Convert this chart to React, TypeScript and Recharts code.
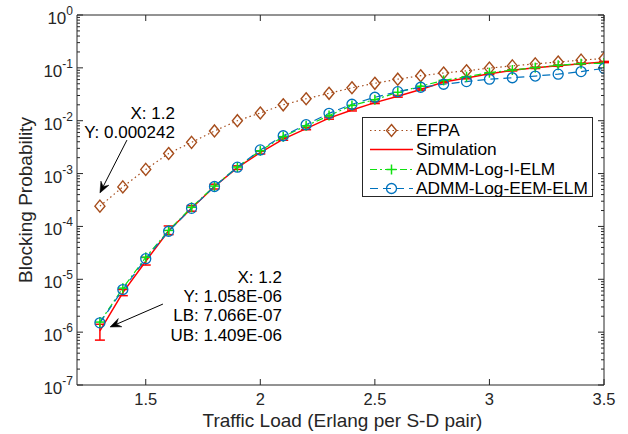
import React from 'react';
import { LineChart, Line, XAxis, YAxis, ErrorBar, Legend, ReferenceLine } from 'recharts';

// ---------- data ----------
const trafficLoad = [1.3, 1.4, 1.5, 1.6, 1.7, 1.8, 1.9, 2.0, 2.1, 2.2, 2.3, 2.4, 2.5, 2.6, 2.7, 2.8, 2.9, 3.0, 3.1, 3.2, 3.3, 3.4, 3.5];
const efpa = [2.42e-4, 5.6e-4, 1.2e-3, 2.4e-3, 3.9e-3, 6.4e-3, 1.0e-2, 1.4e-2, 2.0e-2, 2.6e-2, 3.3e-2, 4.2e-2, 5.1e-2, 6.1e-2, 7.1e-2, 8.0e-2, 8.8e-2, 9.9e-2, 1.09e-1, 1.19e-1, 1.29e-1, 1.4e-1, 1.5e-1];
const simulation = [1.058e-6, 5.6e-6, 2.2e-5, 8.3e-5, 2.2e-4, 5.7e-4, 1.3e-3, 2.5e-3, 4.5e-3, 7.1e-3, 1.12e-2, 1.6e-2, 2.2e-2, 2.9e-2, 3.9e-2, 5.4e-2, 6.4e-2, 7.7e-2, 9.0e-2, 1.0e-1, 1.1e-1, 1.2e-1, 1.29e-1];
const simErrLow = [3.514e-7, 7e-7, 3.4e-6, 1.3e-5, 2.6e-5, 6e-5, 1e-4, 1.5e-4, 2.3e-4, 3.5e-4, 5e-4, 7e-4, 9e-4, 1.1e-3, 1.4e-3, 1.8e-3, 2e-3, 2.4e-3, 2.6e-3, 2.8e-3, 3e-3, 3.2e-3, 3.4e-3];
const simErrHigh = [3.51e-7, 8e-7, 4e-6, 1.9e-5, 2.8e-5, 6e-5, 1e-4, 1.5e-4, 2.3e-4, 3.5e-4, 5e-4, 7e-4, 9e-4, 1.1e-3, 1.4e-3, 1.8e-3, 2e-3, 2.4e-3, 2.6e-3, 2.8e-3, 3e-3, 3.2e-3, 3.4e-3];
const admmLogIElm = [1.55e-6, 6.8e-6, 2.6e-5, 8.4e-5, 2.3e-4, 5.8e-4, 1.33e-3, 2.7e-3, 5.0e-3, 8.0e-3, 1.25e-2, 1.95e-2, 2.5e-2, 3.45e-2, 4.5e-2, 5.8e-2, 6.8e-2, 8.1e-2, 9.1e-2, 1.01e-1, 1.12e-1, 1.2e-1, 1.22e-1];
const admmLogEemElm = [1.5e-6, 6.4e-6, 2.45e-5, 8.1e-5, 2.2e-4, 5.7e-4, 1.32e-3, 2.8e-3, 5.2e-3, 8.4e-3, 1.38e-2, 2.05e-2, 2.78e-2, 3.55e-2, 4.3e-2, 4.9e-2, 5.5e-2, 6.1e-2, 6.5e-2, 7.0e-2, 7.6e-2, 8.5e-2, 9.8e-2];

const xTicks = [1.5, 2, 2.5, 3, 3.5];
const yMajorTicks = [1e-7, 1e-6, 1e-5, 1e-4, 1e-3, 1e-2, 1e-1, 1];
const yMinorMultipliers = [2, 3, 4, 5, 6, 7, 8, 9];

const seriesNames = ['EFPA', 'Simulation', 'ADMM-Log-I-ELM', 'ADMM-Log-EEM-ELM'];

const tip1Lines = ['X: 1.2', 'Y: 0.000242'];
const tip1From = { x: 1.418, y: 4.3e-3 };
const tip1To = { x: 1.3, y: 4.3e-4 };
const tip2Lines = ['X: 1.2', 'Y: 1.058E-06', 'LB: 7.066E-07', 'UB: 1.409E-06'];
const tip2From = { x: 1.575, y: 3.4e-6 };
const tip2To = { x: 1.344, y: 1.25e-6 };

const data = trafficLoad.map((x, i) => ({
  x,
  efpa: efpa[i],
  sim: simulation[i],
  simErr: [simErrLow[i], simErrHigh[i]],
  iElm: admmLogIElm[i],
  eem: admmLogEemElm[i],
}));

const yTicks: number[] = [];
yMajorTicks.forEach((m, i) => {
  yTicks.push(m);
  if (i < yMajorTicks.length - 1) yMinorMultipliers.forEach((k) => yTicks.push(k * m));
});

// ---------- styles ----------
const FONT = '"Liberation Sans", Arial, Helvetica, sans-serif';
const AXIS = '#262626';
const C_EFPA = '#a64d1c';
const C_SIM = '#ff0000';
const C_IELM = '#10e010';
const C_EEM = '#0072bd';

const isMajor = (v: number) => yMajorTicks.some((m) => Math.abs(v / m - 1) < 1e-6);

const LeftTick = (props: any) => {
  const { x, y, payload } = props;
  const v = payload.value;
  const major = isMajor(v);
  const exp = Math.round(Math.log10(v));
  return (
    <g>
      <line x1={x} y1={y} x2={x + (major ? 6 : 3)} y2={y} stroke={AXIS} strokeWidth={1} />
      {major && (
        <text x={x - 4} y={y + 9} textAnchor="end" fontFamily={FONT} fontSize={17} fill={AXIS}>
          <tspan>10</tspan>
          <tspan dy={-9} fontSize={12}>{String(exp)}</tspan>
        </text>
      )}
    </g>
  );
};

const RightTick = (props: any) => {
  const { x, y, payload } = props;
  const major = isMajor(payload.value);
  return <line x1={x} y1={y} x2={x - (major ? 6 : 3)} y2={y} stroke={AXIS} strokeWidth={1} />;
};

const BottomTick = (props: any) => {
  const { x, y, payload } = props;
  return (
    <g>
      <line x1={x} y1={y} x2={x} y2={y - 6} stroke={AXIS} strokeWidth={1} />
      <text x={x} y={y + 20} textAnchor="middle" fontFamily={FONT} fontSize={16.5} fill={AXIS}>
        {String(payload.value)}
      </text>
    </g>
  );
};

const TopTick = (props: any) => {
  const { x, y } = props;
  return <line x1={x} y1={y} x2={x} y2={y + 6} stroke={AXIS} strokeWidth={1} />;
};

// ---------- markers ----------
const Diamond = ({ cx, cy, color }: any) => (
  <polygon
    points={`${cx},${cy - 6} ${cx + 5},${cy} ${cx},${cy + 6} ${cx - 5},${cy}`}
    fill="none"
    stroke={color}
    strokeWidth={1.4}
  />
);
const Plus = ({ cx, cy, color }: any) => (
  <g stroke={color} strokeWidth={1.5}>
    <line x1={cx - 5} y1={cy} x2={cx + 5} y2={cy} />
    <line x1={cx} y1={cy - 5} x2={cx} y2={cy + 5} />
  </g>
);
const Circle = ({ cx, cy, color }: any) => (
  <circle cx={cx} cy={cy} r={5} fill="none" stroke={color} strokeWidth={1.3} />
);

const dotRenderer = (Comp: any, color: string) => (props: any) => {
  const { cx, cy, index } = props;
  if (cx == null || cy == null) return <g key={index} />;
  return (
    <g key={`d-${index}`}>
      <Comp cx={cx} cy={cy} color={color} />
    </g>
  );
};

// ---------- annotation arrows ----------
const makeArrow = (lines: string[], dx: number, baselines: number[]) => (props: any) => {
  const { x1, y1, x2, y2 } = props;
  const len = Math.hypot(x2 - x1, y2 - y1) || 1;
  const ux = (x2 - x1) / len;
  const uy = (y2 - y1) / len;
  const nx = -uy;
  const ny = ux;
  const L = 11;
  const W = 4.5;
  const bx = x2 - ux * L;
  const by = y2 - uy * L;
  const mx = x2 - ux * L * 0.65;
  const my = y2 - uy * L * 0.65;
  return (
    <g>
      <line x1={x1} y1={y1} x2={mx} y2={my} stroke="#000" strokeWidth={1} />
      <polygon
        points={`${x2},${y2} ${bx + nx * W},${by + ny * W} ${mx},${my} ${bx - nx * W},${by - ny * W}`}
        fill="#000"
        stroke="#000"
        strokeWidth={0.5}
      />
      <text textAnchor="end" fontFamily={FONT} fontSize={17} fill="#000">
        {lines.map((l, i) => (
          <tspan key={i} x={x1 + dx} y={y1 + baselines[i]}>
            {l}
          </tspan>
        ))}
      </text>
    </g>
  );
};

// ---------- legend ----------
const legendItems = [
  { name: seriesNames[0], color: C_EFPA, dash: '1.5 3', width: 1.2, marker: Diamond },
  { name: seriesNames[1], color: C_SIM, dash: undefined, width: 1.5, marker: null },
  { name: seriesNames[2], color: C_IELM, dash: '7 3 2 3', width: 1.2, marker: Plus },
  { name: seriesNames[3], color: C_EEM, dash: '8 5', width: 1.2, marker: Circle },
];

const LegendBox = () => (
  <div
    style={{
      border: `1px solid ${AXIS}`,
      background: '#fff',
      width: 231,
      height: 80,
      paddingTop: 3,
      boxSizing: 'border-box',
      fontFamily: FONT,
      fontSize: 17.3,
      color: '#000',
    }}
  >
    {legendItems.map((it) => {
      const M = it.marker as any;
      return (
        <div key={it.name} style={{ display: 'flex', alignItems: 'center', height: 19.3, whiteSpace: 'nowrap' }}>
          <svg width={53} height={19} style={{ flex: 'none' }}>
            <line x1={7} y1={9.5} x2={50} y2={9.5} stroke={it.color} strokeWidth={it.width} strokeDasharray={it.dash} />
            {M && <M cx={28.5} cy={9.5} color={it.color} />}
          </svg>
          <span style={{ lineHeight: '19px' }}>{it.name}</span>
        </div>
      );
    })}
  </div>
);

const YLabel = (props: any) => {
  const vb = props.viewBox || { x: 0, y: 15, width: 77, height: 370 };
  const cx = vb.x + 25;
  const cy = vb.y + vb.height / 2;
  return (
    <text
      x={cx}
      y={cy}
      dy="0.35em"
      transform={`rotate(-90 ${cx} ${cy})`}
      textAnchor="middle"
      fontFamily={FONT}
      fontSize={19}
      fill={AXIS}
    >
      Blocking Probability
    </text>
  );
};

const XLabel = (props: any) => {
  const vb = props.viewBox || { x: 77, y: 385, width: 527, height: 49 };
  return (
    <text x={vb.x + vb.width / 2 + 2} y={vb.y + 42} textAnchor="middle" fontFamily={FONT} fontSize={19} fill={AXIS}>
      Traffic Load (Erlang per S-D pair)
    </text>
  );
};

export default function App() {
  return (
    <div style={{ position: 'absolute', left: 0, top: 0, background: '#fff' }}>
      <LineChart width={628} height={434} data={data} margin={{ top: 0, right: 0, bottom: 0, left: 0 }}>
        <XAxis
          dataKey="x"
          type="number"
          domain={[1.2, 3.5]}
          allowDataOverflow
          ticks={xTicks}
          interval={0}
          tickSize={0}
          tickMargin={0}
          tick={<BottomTick />}
          tickLine={false}
          axisLine={{ stroke: AXIS, strokeWidth: 1 }}
          height={49}
          label={<XLabel />}
        />
        <XAxis
          xAxisId="top"
          orientation="top"
          dataKey="x"
          type="number"
          domain={[1.2, 3.5]}
          allowDataOverflow
          ticks={xTicks}
          interval={0}
          tickSize={0}
          tickMargin={0}
          tick={<TopTick />}
          tickLine={false}
          axisLine={{ stroke: AXIS, strokeWidth: 1 }}
          height={15}
        />
        <YAxis
          type="number"
          scale="log"
          domain={[1e-7, 1]}
          allowDataOverflow
          ticks={yTicks}
          interval={0}
          tickSize={0}
          tickMargin={0}
          tick={<LeftTick />}
          tickLine={false}
          axisLine={{ stroke: AXIS, strokeWidth: 1 }}
          width={77}
          label={<YLabel />}
        />
        <YAxis
          yAxisId="right"
          orientation="right"
          type="number"
          scale="log"
          domain={[1e-7, 1]}
          allowDataOverflow
          ticks={yTicks}
          interval={0}
          tickSize={0}
          tickMargin={0}
          tick={<RightTick />}
          tickLine={false}
          axisLine={{ stroke: AXIS, strokeWidth: 1 }}
          width={24}
        />
        <Line
          dataKey="efpa"
          name={seriesNames[0]}
          stroke={C_EFPA}
          strokeWidth={1.2}
          strokeDasharray="1.5 3"
          dot={dotRenderer(Diamond, C_EFPA)}
          activeDot={false}
          isAnimationActive={false}
        />
        <Line
          dataKey="sim"
          name={seriesNames[1]}
          stroke={C_SIM}
          strokeWidth={1.5}
          dot={false}
          activeDot={false}
          isAnimationActive={false}
        >
          <ErrorBar dataKey="simErr" width={5} stroke={C_SIM} strokeWidth={1.5} direction="y" isAnimationActive={false} />
        </Line>
        <Line
          dataKey="iElm"
          name={seriesNames[2]}
          stroke={C_IELM}
          strokeWidth={1.2}
          strokeDasharray="7 3 2 3"
          dot={dotRenderer(Plus, C_IELM)}
          activeDot={false}
          isAnimationActive={false}
        />
        <Line
          dataKey="eem"
          name={seriesNames[3]}
          stroke={C_EEM}
          strokeWidth={1.2}
          strokeDasharray="8 5"
          dot={dotRenderer(Circle, C_EEM)}
          activeDot={false}
          isAnimationActive={false}
        />
        <ReferenceLine
          segment={[tip1From, tip1To]}
          ifOverflow="visible"
          shape={makeArrow(tip1Lines, 48, [-21, -2])}
        />
        <ReferenceLine
          segment={[tip2From, tip2To]}
          ifOverflow="visible"
          shape={makeArrow(tip2Lines, 119, [-21, -2, 17, 37])}
        />
        <Legend
          layout="horizontal"
          verticalAlign="middle"
          align="center"
          content={() => <LegendBox />}
          wrapperStyle={{ position: 'absolute', left: 362, top: 117, width: 'auto', height: 'auto' }}
        />
      </LineChart>
    </div>
  );
}
